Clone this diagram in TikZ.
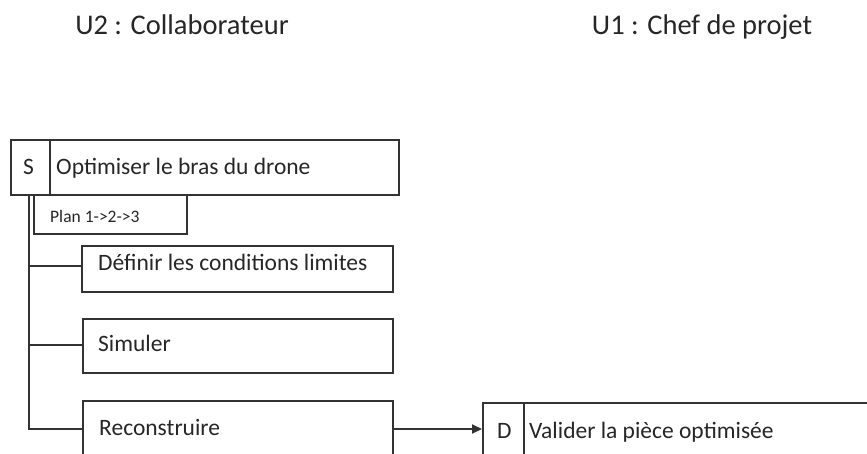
\documentclass[tikz,border=0pt]{standalone}
\usepackage{fontspec}
\setmainfont{Carlito}
\usetikzlibrary{arrows.meta,calc}
\definecolor{ln}{HTML}{333333}
\definecolor{tx}{HTML}{262626}
\begin{document}
\begin{tikzpicture}[x=1pt,y=-1pt,
  box/.style={draw=ln,line width=2pt,rectangle,inner sep=0pt,anchor=north west},
  lbl/.style={text=tx,anchor=base west,inner sep=0pt,font=\fontsize{23.5}{27}\selectfont},
  ttl/.style={text=tx,anchor=base,inner sep=0pt,font=\fontsize{28.5}{32}\selectfont},
  conn/.style={draw=ln,line width=2pt}]
\useasboundingbox (0,0) rectangle (867,454);
\clip (0,0) rectangle (867,454);
\node[ttl] (u2) at (182,35) {U2 : Collaborateur};
\node[ttl] (u1) at (702,35) {U1 : Chef de projet};
% S box
\node[box,minimum width=388,minimum height=55] (s) at (10,139) {};
\draw[conn] ($(s.north west)+(40,0)$) -- ($(s.south west)+(40,0)$);
\node[lbl] (st) at (23,175) {S};
\node[lbl] (sl) at (56,175) {Optimiser le bras du drone};
% plan box
\node[box,minimum width=153,minimum height=39] (plan) at (33,194) {};
\node[lbl,font=\fontsize{17.5}{20}\selectfont] (pl) at (50,223) {Plan 1->2->3};
% sub tasks
\node[box,minimum width=311,minimum height=46] (def) at (81,245) {};
\node[lbl] (dl) at (98,271) {Définir les conditions limites};
\node[box,minimum width=310,minimum height=54] (sim) at (82,318) {};
\node[lbl] (sml) at (98,351) {Simuler};
\node[box,minimum width=310,minimum height=80] (rec) at (82,400) {};
\node[lbl] (rl) at (99,435) {Reconstruire};
% D box
\node[box,minimum width=420,minimum height=80] (d) at (482,402) {};
\draw[conn] ($(d.north west)+(42,0)$) -- ($(d.south west)+(42,0)$);
\node[lbl] (dt) at (497,438) {D};
\node[lbl] (vl) at (529,438) {Valider la pièce optimisée};
% connectors
\coordinate (top) at ($(s.south west)+(19,0)$);
\coordinate (bot) at (29,429);
\draw[conn] (top) -- (bot) -- (rec.west |- bot);
\draw[conn] (29,266) -- (def.west |- 0,266);
\draw[conn] (29,345) -- (sim.west |- 0,345);
\draw[conn,-{Triangle[length=10pt,width=9pt]}] (rec.east |- bot) -- (d.west |- bot);
\end{tikzpicture}
\end{document}
